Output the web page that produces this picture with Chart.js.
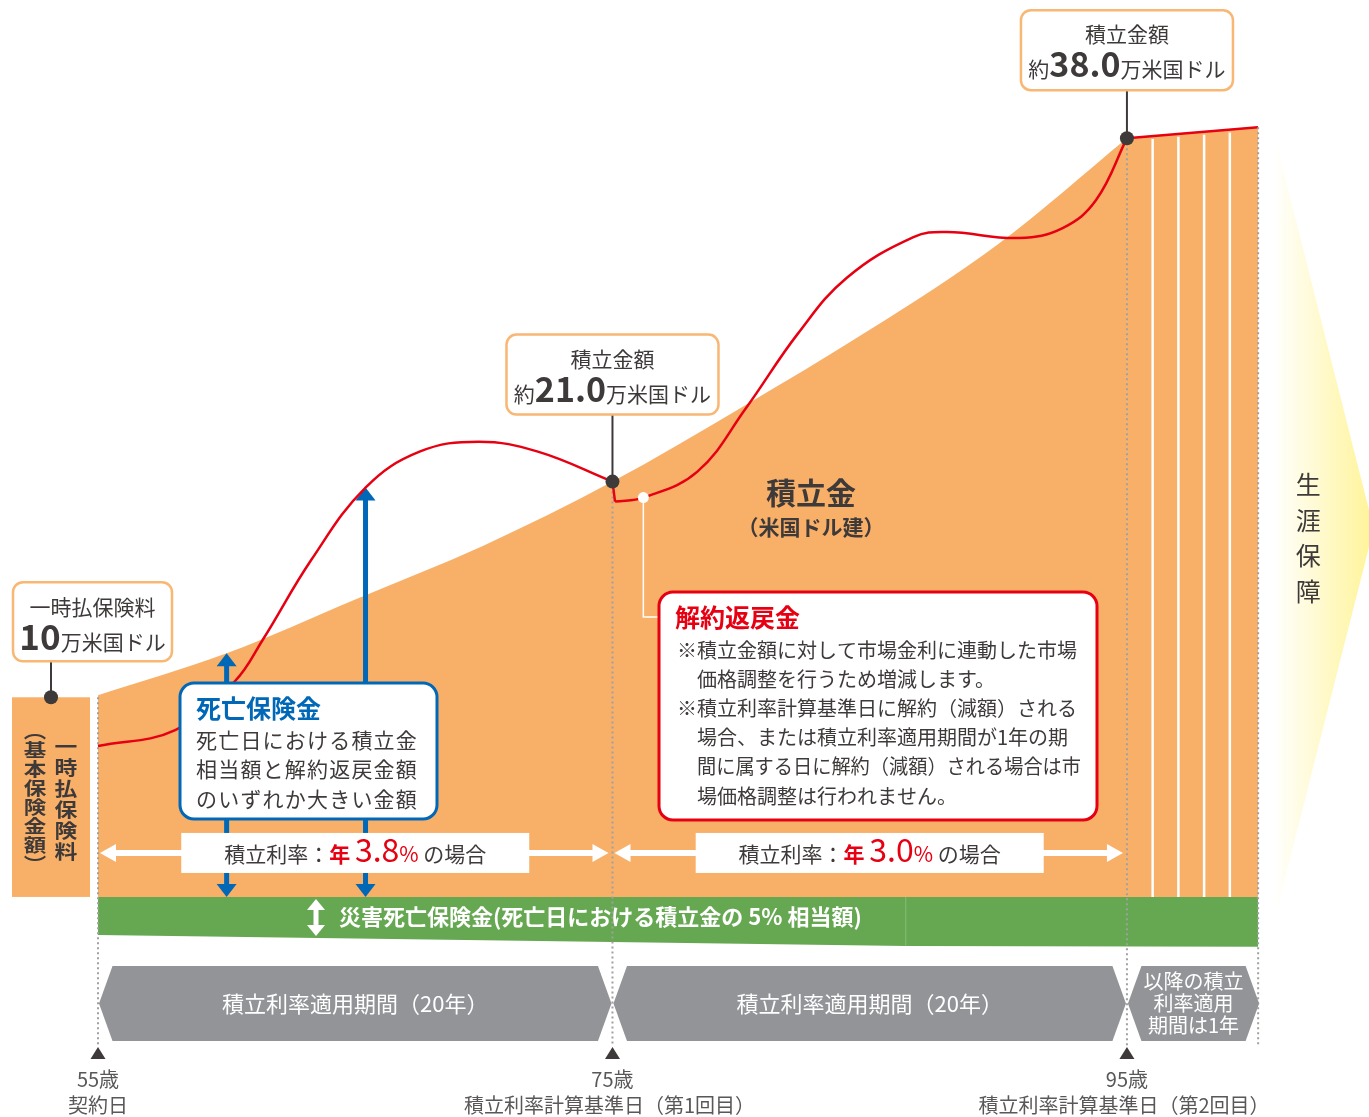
<!DOCTYPE html>
<html>
<head>
<meta charset="utf-8">
<script src="https://cdn.jsdelivr.net/npm/chart.js@4.4.1/dist/chart.umd.min.js"></script>
<style>
html, body { margin: 0; padding: 0; background: #fff; }
#wrap { width: 1369px; height: 1117px; position: relative; }
</style>
</head>
<body>
<div id="wrap"><canvas id="chartHolder"></canvas></div>
<script>
const chartHolder = document.getElementById("chartHolder");

// accumulated amount (万米国ドル) by age
const accAges = [55, 60, 65, 70, 75, 80, 85, 90, 95];
const accValues = [10.1, 12.2, 14.9, 17.6, 20.8, 24.5, 28.4, 32.7, 38.0];
// after 95 (1 year periods)
const laterAges = [95, 100.1];
const laterValues = [38.0, 38.55];
// surrender value (red line), drops right after 75
const surrAges = [55, 58, 60.3, 61.4, 63.3, 65.4, 67.5, 69.8, 72.1, 75, 75.1, 76.2, 78.3, 80.2, 82.2, 84.1, 86.7, 88, 90.8, 92.5, 93.8, 95];
const surrValues = [7.56, 8.36, 10.77, 12.87, 16.9, 20.5, 22.3, 22.8, 22.3, 20.8, 19.8, 20.0, 21.3, 24.5, 28.2, 31.0, 33.05, 33.3, 33.0, 33.5, 34.9, 38.0];
const dropIndex = 9;
// accidental death benefit band (drawn below zero)
const accidentAges = [55, 86.4, 100.1];
const accidentValues = [-1.9, -2.45, -2.5];
// death benefit arrows
const deathAges = [60, 65.4];
const deathValues = [12.2, 20.5];

const milestoneAges = [55, 75, 95];
const milestoneLabels = [["55歳", "契約日"], ["75歳", "積立利率計算基準日（第1回目）"], ["95歳", "積立利率計算基準日（第2回目）"]];
const periodEnds = [55, 75, 95, 100.1];
const periodLabels = [["積立利率適用期間（20年）"], ["積立利率適用期間（20年）"], ["以降の積立", "利率適用", "期間は1年"]];
const rateLabels = ["3.8", "3.0"];
const yearlyLines = [96, 97, 98, 99];
const premium = 10;

const F = '"Noto Sans CJK JP", "Noto Sans", sans-serif';
const DARK = "#3e3a39";
const ORANGE = "#f8b069";
const RED = "#e60012";
const BLUE = "#0068b7";

function pts(xs, ys) {
    return xs.map((x, i) => ({ x: x, y: ys[i] }));
}

function runs(ctx, parts, x, y, align) {
    let w = 0;
    parts.forEach(p => { ctx.font = p[1]; w += ctx.measureText(p[0]).width; });
    let cx = align === "center" ? x - w / 2 : x;
    ctx.textAlign = "left";
    parts.forEach(p => {
        ctx.font = p[1];
        ctx.fillStyle = p[2];
        ctx.fillText(p[0], cx, y);
        cx += ctx.measureText(p[0]).width;
    });
}

function box(ctx, x, y, w, h, r, stroke, lw) {
    ctx.beginPath();
    ctx.roundRect(x, y, w, h, r);
    ctx.fillStyle = "#fff";
    ctx.fill();
    ctx.lineWidth = lw;
    ctx.strokeStyle = stroke;
    ctx.stroke();
}

// arrow from (x1,y1) to (x2,y2), head at (x2,y2)
function arrow(ctx, x1, y1, x2, y2, color, lw, hl, hw) {
    const a = Math.atan2(y2 - y1, x2 - x1);
    const bx = x2 - Math.cos(a) * hl, by = y2 - Math.sin(a) * hl;
    ctx.strokeStyle = color;
    ctx.fillStyle = color;
    ctx.lineWidth = lw;
    ctx.beginPath();
    ctx.moveTo(x1, y1);
    ctx.lineTo(bx + Math.cos(a), by + Math.sin(a));
    ctx.stroke();
    ctx.beginPath();
    ctx.moveTo(x2, y2);
    ctx.lineTo(bx - Math.sin(a) * hw / 2, by + Math.cos(a) * hw / 2);
    ctx.lineTo(bx + Math.sin(a) * hw / 2, by - Math.cos(a) * hw / 2);
    ctx.closePath();
    ctx.fill();
}

function dot(ctx, x, y, r, color) {
    ctx.beginPath();
    ctx.arc(x, y, r, 0, Math.PI * 2);
    ctx.fillStyle = color;
    ctx.fill();
}

function vertical(ctx, chars, x, y0, step, font, color, sx) {
    ctx.font = font;
    ctx.fillStyle = color;
    ctx.textAlign = "center";
    ctx.textBaseline = "middle";
    chars.forEach((c, i) => {
        ctx.save();
        ctx.translate(x, y0 + i * step);
        ctx.scale(sx || 1, 1);
        ctx.fillText(c, 0, 0);
        ctx.restore();
    });
}

function laterAt(a) {
    const t = (a - laterAges[0]) / (laterAges[1] - laterAges[0]);
    return laterValues[0] + t * (laterValues[1] - laterValues[0]);
}

const decorations = {
    id: "decorations",
    afterDatasetDraw(chart, args) {
        if (args.index !== 1) return;
        const ctx = chart.ctx;
        const X = v => chart.scales.x.getPixelForValue(v);
        const Y = v => chart.scales.y.getPixelForValue(v);
        const y0 = Y(0);
        ctx.save();

        // white yearly lines after 95
        ctx.strokeStyle = "#fff";
        ctx.lineWidth = 2.5;
        yearlyLines.forEach(a => {
            ctx.beginPath();
            ctx.moveTo(X(a), Y(laterAt(a)) + 3);
            ctx.lineTo(X(a), y0);
            ctx.stroke();
        });

        // single premium bar
        const bx1 = X(55) - 86, bx2 = X(55) - 8;
        ctx.fillStyle = ORANGE;
        ctx.fillRect(bx1, Y(premium), bx2 - bx1, y0 - Y(premium));
        const bc = (bx1 + bx2) / 2;
        vertical(ctx, ["一", "時", "払", "保", "険", "料"], bc + 15, Y(premium) + 50, 21, "bold 19px " + F, DARK, 1.2);
        vertical(ctx, ["︵", "基", "本", "保", "険", "金", "額", "︶"], bc - 16, Y(premium) + 34, 19, "bold 18px " + F, DARK, 1.25);

        // seam in green band
        ctx.strokeStyle = "rgba(255,255,255,0.22)";
        ctx.lineWidth = 1;
        ctx.beginPath();
        ctx.moveTo(X(86.4), y0);
        ctx.lineTo(X(86.4), Y(-2.45));
        ctx.stroke();

        // dotted verticals
        ctx.strokeStyle = "#9fa0a0";
        ctx.lineWidth = 2;
        ctx.setLineDash([2, 3]);
        [[55, premium], [75, accValues[4]], [95, accValues[8]], [laterAges[1], laterValues[1]]].forEach(d => {
            ctx.beginPath();
            ctx.moveTo(X(d[0]), Y(d[1]));
            ctx.lineTo(X(d[0]), y0 + 149);
            ctx.stroke();
        });
        ctx.setLineDash([]);

        // blue death benefit arrows
        deathAges.forEach((a, i) => {
            const x = X(a), top = Y(deathValues[i]);
            const mid = (top + y0) / 2;
            arrow(ctx, x, mid, x, top, BLUE, 5, 13, 20);
            arrow(ctx, x, mid, x, y0, BLUE, 5, 13, 20);
        });

        // white rate bands with arrows
        for (let i = 0; i < 2; i++) {
            const xa = X(periodEnds[i]), xb = X(periodEnds[i + 1]);
            const c = (xa + xb) / 2;
            const yb = y0 - 44;
            arrow(ctx, c, yb, xa + 2, yb, "#fff", 6, 16, 18);
            arrow(ctx, c, yb, xb - 4, yb, "#fff", 6, 16, 18);
            ctx.fillStyle = "#fff";
            ctx.fillRect(c - 174, y0 - 64, 348, 40);
            ctx.textBaseline = "alphabetic";
            runs(ctx, [
                ["積立利率：", "21px " + F, DARK],
                ["年 ", "bold 21px " + F, RED],
                [rateLabels[i], "32px " + F, RED],
                ["%", "21px " + F, RED],
                [" の場合", "21px " + F, DARK]
            ], c, y0 - 35, "center");
        }

        // accidental death text
        const gy = y0 + 20;
        const ix = X(55) + 218;
        ctx.fillStyle = "#fff";
        ctx.beginPath();
        ctx.moveTo(ix, gy - 18); ctx.lineTo(ix + 9, gy - 7); ctx.lineTo(ix - 9, gy - 7); ctx.closePath(); ctx.fill();
        ctx.beginPath();
        ctx.moveTo(ix, gy + 19); ctx.lineTo(ix + 9, gy + 8); ctx.lineTo(ix - 9, gy + 8); ctx.closePath(); ctx.fill();
        ctx.fillRect(ix - 2.5, gy - 8, 5, 16);
        ctx.textBaseline = "middle";
        ctx.textAlign = "left";
        ctx.font = "bold 22px " + F;
        ctx.fillText("災害死亡保険金(死亡日における積立金の 5% 相当額)", ix + 23, gy);

        // period hex bars
        const hy1 = y0 + 69, hy2 = y0 + 144, hm = (hy1 + hy2) / 2, tip = 13.5;
        for (let i = 0; i < 3; i++) {
            const x1 = X(periodEnds[i]) + 1, x2 = X(periodEnds[i + 1]) - (i === 2 ? -1 : 1);
            ctx.fillStyle = "#929497";
            ctx.beginPath();
            ctx.moveTo(x1, hm);
            ctx.lineTo(x1 + tip, hy1);
            ctx.lineTo(x2 - tip, hy1);
            ctx.lineTo(x2, hm);
            ctx.lineTo(x2 - tip, hy2);
            ctx.lineTo(x1 + tip, hy2);
            ctx.closePath();
            ctx.fill();
            ctx.fillStyle = "#fff";
            ctx.textAlign = "center";
            ctx.textBaseline = "middle";
            const lines = periodLabels[i];
            if (lines.length === 1) {
                ctx.font = "22px " + F;
                ctx.fillText(lines[0], (x1 + x2) / 2, hm);
            } else {
                ctx.font = "20px " + F;
                lines.forEach((t, k) => ctx.fillText(t, (x1 + x2) / 2, hm - 22 + k * 22));
            }
        }

        // milestone triangles and labels
        milestoneAges.forEach((a, i) => {
            const x = X(a);
            ctx.fillStyle = "#3e3a39";
            ctx.beginPath();
            ctx.moveTo(x, y0 + 150);
            ctx.lineTo(x + 7.5, y0 + 162);
            ctx.lineTo(x - 7.5, y0 + 162);
            ctx.closePath();
            ctx.fill();
            ctx.fillStyle = "#595757";
            ctx.textAlign = "center";
            ctx.textBaseline = "middle";
            ctx.font = "20px " + F;
            ctx.fillText(milestoneLabels[i][0], x, y0 + 182);
            ctx.fillText(milestoneLabels[i][1], x - (i ? 3 : 0), y0 + 208);
        });

        // lifetime coverage shape
        const sx = X(laterAges[1]) + 15, ex = chart.width;
        const g = ctx.createLinearGradient(sx, 0, ex, 0);
        g.addColorStop(0, "#ffffff");
        g.addColorStop(1, "#fff49c");
        ctx.fillStyle = g;
        ctx.beginPath();
        ctx.moveTo(sx, Y(laterValues[1]) + 3);
        ctx.lineTo(ex, y0 - 387);
        ctx.lineTo(ex, y0 - 350);
        ctx.lineTo(sx, y0 + 28);
        ctx.closePath();
        ctx.fill();
        vertical(ctx, ["生", "涯", "保", "障"], sx + 35, y0 - 412, 35.5, "25px " + F, DARK, 1);

        ctx.restore();
    },
    afterDatasetsDraw(chart) {
        const ctx = chart.ctx;
        const X = v => chart.scales.x.getPixelForValue(v);
        const Y = v => chart.scales.y.getPixelForValue(v);
        ctx.save();

        // premium callout
        const px = X(55) - 47, py = Y(premium);
        ctx.strokeStyle = "#3e3a39";
        ctx.lineWidth = 2;
        ctx.beginPath(); ctx.moveTo(px, py); ctx.lineTo(px, py - 40); ctx.stroke();
        box(ctx, 13, py - 115, 159, 79, 10, "#f9b774", 2.5);
        dot(ctx, px, py, 7, "#3e3a39");
        ctx.textAlign = "center";
        ctx.textBaseline = "middle";
        ctx.font = "21px " + F;
        ctx.fillStyle = DARK;
        ctx.fillText("一時払保険料", 92.5, py - 90);
        ctx.textBaseline = "alphabetic";
        runs(ctx, [["10", "bold 35px " + F, DARK], ["万米国ドル", "21px " + F, DARK]], 92.5, py - 47, "center");

        // accumulated callouts
        [[75, accValues[4], "21.0", 67], [95, accValues[8], "38.0", 48]].forEach(c => {
            const x = X(c[0]), y = Y(c[1]);
            const top = y - c[3] - 80;
            ctx.strokeStyle = "#3e3a39";
            ctx.lineWidth = 2;
            ctx.beginPath(); ctx.moveTo(x, y); ctx.lineTo(x, y - c[3]); ctx.stroke();
            box(ctx, x - 106, top, 212, 80, 10, "#f9b774", 2.5);
            dot(ctx, x, y, 7, "#3e3a39");
            ctx.textAlign = "center";
            ctx.textBaseline = "middle";
            ctx.font = "21px " + F;
            ctx.fillStyle = DARK;
            ctx.fillText("積立金額", x, top + 24);
            ctx.textBaseline = "alphabetic";
            runs(ctx, [["約", "21px " + F, DARK], [c[2], "bold 34px " + F, DARK], ["万米国ドル", "21px " + F, DARK]], x, top + 67, "center");
        });

        // accumulated label
        ctx.textAlign = "center";
        ctx.textBaseline = "middle";
        ctx.fillStyle = DARK;
        ctx.font = "bold 30px " + F;
        ctx.fillText("積立金", 811, 493);
        ctx.font = "bold 21px " + F;
        ctx.fillText("（米国ドル建）", 811, 527);

        // surrender callout
        const wx = X(surrAges[dropIndex + 2]), wy = Y(surrValues[dropIndex + 2]);
        ctx.strokeStyle = "#fff";
        ctx.lineWidth = 1.5;
        ctx.beginPath(); ctx.moveTo(wx, wy); ctx.lineTo(wx, 617); ctx.lineTo(662, 617); ctx.stroke();
        dot(ctx, wx, wy, 5.5, "#fff");
        box(ctx, 659, 592, 438, 228, 14, RED, 3);
        ctx.textAlign = "left";
        ctx.textBaseline = "middle";
        ctx.font = "bold 25px " + F;
        ctx.fillStyle = RED;
        ctx.fillText("解約返戻金", 675, 617);
        ctx.font = "20px " + F;
        ctx.fillStyle = DARK;
        [["※積立金額に対して市場金利に連動した市場", 677],
         ["価格調整を行うため増減します。", 697],
         ["※積立利率計算基準日に解約（減額）される", 677],
         ["場合、または積立利率適用期間が1年の期", 697],
         ["間に属する日に解約（減額）される場合は市", 697],
         ["場価格調整は行われません。", 697]].forEach((l, i) => {
            ctx.fillText(l[0], l[1], 650 + i * 29.2, 1081 - l[1]);
        });

        // death benefit box
        box(ctx, 180, 683, 257, 136, 14, BLUE, 3);
        ctx.font = "bold 25px " + F;
        ctx.fillStyle = BLUE;
        ctx.fillText("死亡保険金", 196, 708);
        ctx.font = "21px " + F;
        ctx.fillStyle = DARK;
        ctx.letterSpacing = "1.2px";
        ["死亡日における積立金", "相当額と解約返戻金額", "のいずれか大きい金額"].forEach((t, i) => {
            ctx.fillText(t, 196, 740 + i * 29.5);
        });
        ctx.letterSpacing = "0px";

        ctx.restore();
    }
};

const redStyle = {
    fill: false,
    borderColor: RED,
    borderWidth: 2.5,
    pointRadius: 0
};

new Chart(chartHolder, {
    type: "line",
    data: {
        datasets: [
            {
                label: "積立金",
                data: pts(accAges, accValues),
                fill: "origin",
                backgroundColor: ORANGE,
                borderWidth: 0,
                pointRadius: 0,
                cubicInterpolationMode: "monotone",
                order: 5
            },
            {
                label: "積立金（95歳以降）",
                data: pts(laterAges, laterValues),
                fill: "origin",
                backgroundColor: ORANGE,
                borderColor: RED,
                borderWidth: 2.5,
                pointRadius: 0,
                tension: 0,
                order: 4
            },
            {
                label: "災害死亡保険金",
                data: pts(accidentAges, accidentValues),
                fill: "origin",
                backgroundColor: "#66a852",
                borderWidth: 0,
                pointRadius: 0,
                tension: 0,
                order: 6
            },
            Object.assign({
                label: "解約返戻金",
                data: pts(surrAges.slice(0, dropIndex + 1), surrValues.slice(0, dropIndex + 1)),
                tension: 0.4,
                order: 1
            }, redStyle),
            Object.assign({
                label: "解約返戻金（75歳）",
                data: pts(surrAges.slice(dropIndex, dropIndex + 2), surrValues.slice(dropIndex, dropIndex + 2)),
                tension: 0,
                order: 1
            }, redStyle),
            Object.assign({
                label: "解約返戻金（75歳以降）",
                data: pts(surrAges.slice(dropIndex + 1), surrValues.slice(dropIndex + 1)),
                tension: 0.4,
                order: 1
            }, redStyle)
        ]
    },
    options: {
        responsive: true,
        maintainAspectRatio: false,
        animation: false,
        layout: { padding: 0 },
        plugins: {
            legend: { display: false },
            tooltip: { enabled: false }
        },
        scales: {
            x: { type: "linear", display: false, min: 51.19, max: 104.41 },
            y: { display: false, min: -11.02, max: 44.92 }
        }
    },
    plugins: [decorations]
});
</script>
</body>
</html>
